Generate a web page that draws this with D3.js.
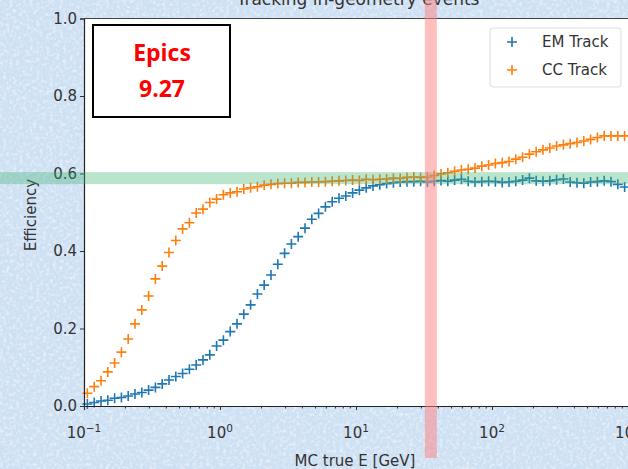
<!DOCTYPE html>
<html>
<head>
<meta charset="utf-8">
<script src="https://d3js.org/d3.v7.min.js"></script>
<style>
  html, body { margin: 0; padding: 0; overflow: hidden; }
  svg { display: block; }
</style>
</head>
<body>
<div id="chart"></div>
<script>
// bin centres, 20 bins per decade (GeV)
var energy = [
  0.1059, 0.1189, 0.1334, 0.1496, 0.1679, 0.1884, 0.2113, 0.2371, 0.2661, 0.2985,
  0.3350, 0.3758, 0.4217, 0.4732, 0.5309, 0.5957, 0.6683, 0.7499, 0.8414, 0.9441,
  1.059, 1.189, 1.334, 1.496, 1.679, 1.884, 2.113, 2.371, 2.661, 2.985,
  3.350, 3.758, 4.217, 4.732, 5.309, 5.957, 6.683, 7.499, 8.414, 9.441,
  10.59, 11.89, 13.34, 14.96, 16.79, 18.84, 21.13, 23.71, 26.61, 29.85,
  33.50, 37.58, 42.17, 47.32, 53.09, 59.57, 66.83, 74.99, 84.14, 94.41,
  105.9, 118.9, 133.4, 149.6, 167.9, 188.4, 211.3, 237.1, 266.1, 298.5,
  335.0, 375.8, 421.7, 473.2, 530.9, 595.7, 668.3, 749.9, 841.4, 944.1
];

var emTrack = [
  0.005, 0.009, 0.013, 0.015, 0.020, 0.022, 0.026, 0.031, 0.035, 0.041,
  0.048, 0.057, 0.067, 0.076, 0.084, 0.095, 0.106, 0.119, 0.132, 0.155,
  0.170, 0.192, 0.212, 0.237, 0.261, 0.289, 0.312, 0.338, 0.366, 0.394,
  0.418, 0.437, 0.459, 0.482, 0.497, 0.514, 0.527, 0.536, 0.542, 0.550,
  0.557, 0.563, 0.568, 0.571, 0.574, 0.576, 0.578, 0.579, 0.579, 0.580,
  0.578, 0.580, 0.582, 0.580, 0.583, 0.585, 0.580, 0.578, 0.579, 0.580,
  0.579, 0.577, 0.578, 0.580, 0.583, 0.588, 0.581, 0.580, 0.581, 0.584,
  0.586, 0.578, 0.576, 0.575, 0.578, 0.579, 0.581, 0.579, 0.572, 0.565
];

var ccTrack = [
  0.033, 0.050, 0.065, 0.088, 0.111, 0.139, 0.173, 0.212, 0.248, 0.284,
  0.328, 0.361, 0.396, 0.427, 0.457, 0.473, 0.498, 0.508, 0.525, 0.534,
  0.545, 0.550, 0.553, 0.560, 0.563, 0.566, 0.570, 0.572, 0.574, 0.575,
  0.575, 0.577, 0.577, 0.578, 0.578, 0.579, 0.580, 0.581, 0.582, 0.583,
  0.582, 0.585, 0.584, 0.585, 0.586, 0.588, 0.587, 0.590, 0.591, 0.590,
  0.591, 0.595, 0.599, 0.602, 0.606, 0.609, 0.611, 0.614, 0.619, 0.622,
  0.626, 0.628, 0.631, 0.637, 0.642, 0.650, 0.656, 0.661, 0.666, 0.671,
  0.674, 0.677, 0.680, 0.684, 0.688, 0.693, 0.697, 0.697, 0.697, 0.697
];

var seriesNames = ["EM Track", "CC Track"];
var yTicks = [0, 0.2, 0.4, 0.6, 0.8, 1.0];
var xTicks = [0.1, 1, 10, 100, 1000];
var xTickExp = ["\u22121", "0", "1", "2", "3"];
var xMinor = [0.2, 0.3, 0.4, 0.5, 0.6, 0.7, 0.8, 0.9,
              2, 3, 4, 5, 6, 7, 8, 9,
              20, 30, 40, 50, 60, 70, 80, 90,
              200, 300, 400, 500, 600, 700, 800, 900];
var cutE = 35.5;      // red marker line (GeV)
var refEff = 0.588;   // green reference level

var W = 628, H = 469;
var plotL = 84, plotR = 628, plotT = 18.5, plotB = 406;
var blue = "#1f77b4", orange = "#ff7f0e";
var font = "'DejaVu Sans', sans-serif";

var svg = d3.select("#chart").append("svg").attr("width", W).attr("height", H);

// textured light-blue backdrop
var defs = svg.append("defs");
var f = defs.append("filter").attr("id", "noise").attr("x", 0).attr("y", 0).attr("width", "100%").attr("height", "100%");
f.append("feTurbulence").attr("type", "fractalNoise").attr("baseFrequency", 0.3).attr("numOctaves", 3).attr("seed", 4);
f.append("feColorMatrix").attr("type", "matrix")
  .attr("values", "0 0 0 0 1  0 0 0 0 1  0 0 0 0 1  1.8 0 0 0 -0.8");
svg.append("rect").attr("width", W).attr("height", H).attr("fill", "#cee0f3");
svg.append("rect").attr("width", W).attr("height", H).attr("filter", "url(#noise)").attr("opacity", 0.75);

var x = d3.scaleLog().domain([0.1, 1000]).range([plotL, plotR]);
var y = d3.scaleLinear().domain([0, 1]).range([plotB, plotT]);

// plot area
svg.append("rect").attr("x", plotL).attr("y", plotT).attr("width", W - plotL + 10).attr("height", plotB - plotT).attr("fill", "#fff");

// markers
function plus(g, data, color) {
  g.selectAll("path").data(data).enter().append("path")
    .attr("d", function(d, i) {
      var cx = x(energy[i]), cy = y(d);
      return "M" + (cx - 5) + "," + cy + "h10M" + cx + "," + (cy - 5) + "v10";
    })
    .attr("stroke", color).attr("stroke-width", 1.6).attr("fill", "none");
}
plus(svg.append("g"), emTrack, blue);
plus(svg.append("g"), ccTrack, orange);

// axes
var yAxis = d3.axisLeft(y).tickValues(yTicks).tickFormat(d3.format(".1f")).tickSize(4).tickPadding(3);
var gy = svg.append("g").attr("transform", "translate(" + plotL + ",0)").call(yAxis);
gy.select(".domain").attr("stroke", "#222").attr("stroke-width", 1.2);
gy.selectAll(".tick line").attr("stroke", "#333");
gy.selectAll(".tick text").attr("font-family", font).attr("font-size", 15).attr("fill", "#333");

var xAxis = d3.axisBottom(x).tickValues(xTicks).tickFormat("").tickSize(4);
var gx = svg.append("g").attr("transform", "translate(0," + plotB + ")").call(xAxis);
gx.select(".domain").attr("stroke", "#222").attr("stroke-width", 1.2);
gx.selectAll(".tick line").attr("stroke", "#333");
var gxm = svg.append("g").attr("transform", "translate(0," + plotB + ")")
  .call(d3.axisBottom(x).tickValues(xMinor).tickFormat("").tickSize(2.5));
gxm.select(".domain").remove();
gxm.selectAll(".tick line").attr("stroke", "#333");

var xl = svg.append("g").selectAll("text").data(xTicks).enter().append("text")
  .attr("x", function(d) { return x(d); }).attr("y", 438)
  .attr("text-anchor", "middle").attr("font-family", font).attr("font-size", 15).attr("fill", "#333");
xl.append("tspan").text("10");
xl.append("tspan").attr("dy", -6).attr("font-size", 10.5).text(function(d, i) { return xTickExp[i]; });

// top spine
svg.append("line").attr("x1", plotL).attr("x2", W).attr("y1", plotT).attr("y2", plotT).attr("stroke", "#444").attr("stroke-width", 1);

// labels
svg.append("text").attr("x", 355).attr("y", 466).attr("text-anchor", "middle")
  .attr("font-family", font).attr("font-size", 15).attr("fill", "#333").text("MC true E [GeV]");
svg.append("text").attr("transform", "translate(36,215) rotate(-90)").attr("text-anchor", "middle")
  .attr("font-family", font).attr("font-size", 15).attr("fill", "#333").text("Efficiency");
svg.append("text").attr("x", 358).attr("y", 5).attr("text-anchor", "middle")
  .attr("font-family", font).attr("font-size", 17).attr("fill", "#333").text("Tracking in-geometry events");

// legend
var lg = svg.append("g");
lg.append("rect").attr("x", 490).attr("y", 28).attr("width", 131).attr("height", 59).attr("rx", 3)
  .attr("fill", "#fff").attr("stroke", "#ddd");
seriesNames.forEach(function(name, i) {
  var ly = 42 + i * 28;
  lg.append("path").attr("d", "M507,"+ ly + "h10M512," + (ly - 5) + "v10")
    .attr("stroke", i ? orange : blue).attr("stroke-width", 1.6);
  lg.append("text").attr("x", 542).attr("y", ly + 5).attr("font-family", font).attr("font-size", 15)
    .attr("fill", "#333").text(name);
});

// Epics annotation
svg.append("rect").attr("x", 93).attr("y", 25).attr("width", 137).attr("height", 92)
  .attr("fill", "#fff").attr("stroke", "#000").attr("stroke-width", 2);
svg.append("text").attr("x", 162).attr("y", 61).attr("text-anchor", "middle")
  .attr("font-family", "'Open Sans', 'Liberation Sans', sans-serif").attr("font-weight", "bold")
  .attr("font-size", 23).attr("fill", "#f00").text("Epics");
svg.append("text").attr("x", 162).attr("y", 97).attr("text-anchor", "middle")
  .attr("font-family", "'Open Sans', 'Liberation Sans', sans-serif").attr("font-weight", "bold")
  .attr("font-size", 23).attr("fill", "#f00").text("9.27");

// highlight bands
svg.append("rect").attr("x", 0).attr("y", y(refEff) - 6).attr("width", W).attr("height", 12)
  .attr("fill", "#3cb371").attr("opacity", 0.35);
svg.append("rect").attr("x", x(cutE) - 6).attr("y", 0).attr("width", 12).attr("height", 458)
  .attr("fill", "#ff7f7f").attr("opacity", 0.5);
</script>
</body>
</html>
